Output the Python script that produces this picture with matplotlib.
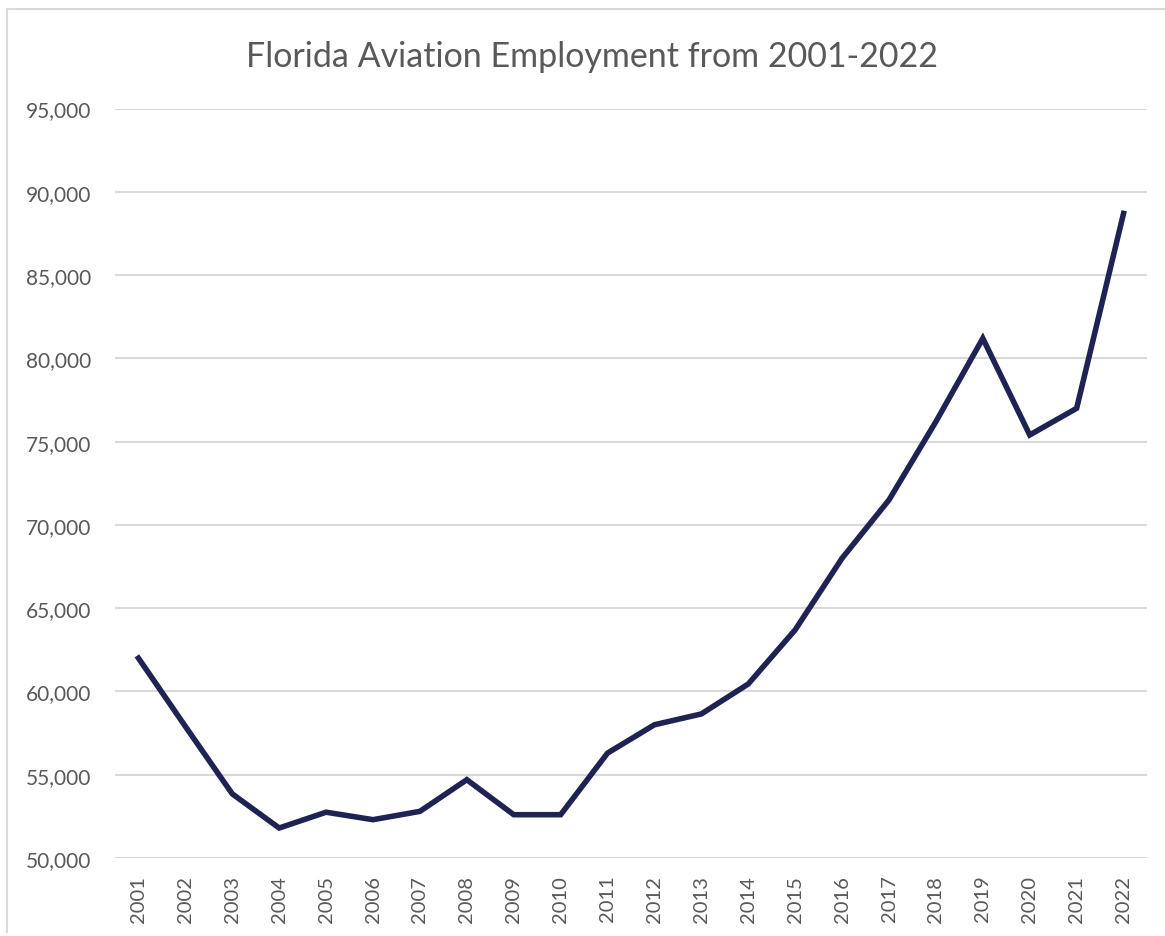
import matplotlib.pyplot as plt
from matplotlib.lines import Line2D
from matplotlib.ticker import FuncFormatter

years = [str(y) for y in range(2001, 2023)]
employment = [62000, 57900, 53850, 51800, 52750, 52300, 52800, 54700, 52600, 52600,
              56300, 58000, 58650, 60450, 63700, 68000, 71500, 76200, 81200, 75400,
              77000, 88700]
y_ticks = list(range(50000, 95001, 5000))

plt.rcParams['font.family'] = ['Lato', 'DejaVu Sans']
text_grey = '#595959'

fig = plt.figure(figsize=(11.65, 9.37), dpi=100)
ax = fig.add_axes([115 / 1165, 1 - 859 / 937, (1147 - 115) / 1165, (859 - 109.5) / 937])

x = range(len(years))
ax.plot(x, employment, color='#1f2354', linewidth=4.0, solid_joinstyle='miter')

ax.set_xlim(-0.5, len(years) - 0.5)
ax.set_ylim(50000, 95000)
ax.set_xticks(list(x))
ax.set_xticklabels(years, rotation=90, fontsize=14.5, color=text_grey)
ax.set_yticks(y_ticks)
ax.yaxis.set_major_formatter(FuncFormatter(lambda v, p: f'{int(v):,}'))
ax.tick_params(axis='y', labelsize=15, colors=text_grey, length=0, pad=17)
ax.tick_params(axis='x', length=0, pad=12)

ax.grid(axis='y', color='#d9d9d9', linewidth=1.5)
ax.set_axisbelow(True)
for s in ax.spines.values():
    s.set_visible(False)

fig.text(592 / 1165, 1 - 57 / 937, 'Florida Aviation Employment from 2001-2022',
         ha='center', va='center', fontsize=24.5, color=text_grey)

# outer chart border (top and left edges are visible)
fig.add_artist(Line2D([7 / 1165, 1.0], [1 - 10 / 937] * 2, color='#d9d9d9', linewidth=1.5))
fig.add_artist(Line2D([7 / 1165] * 2, [1 - 10 / 937, 1 - 933 / 937], color='#d9d9d9', linewidth=1.5))

fig.savefig('out.png', dpi=100)
